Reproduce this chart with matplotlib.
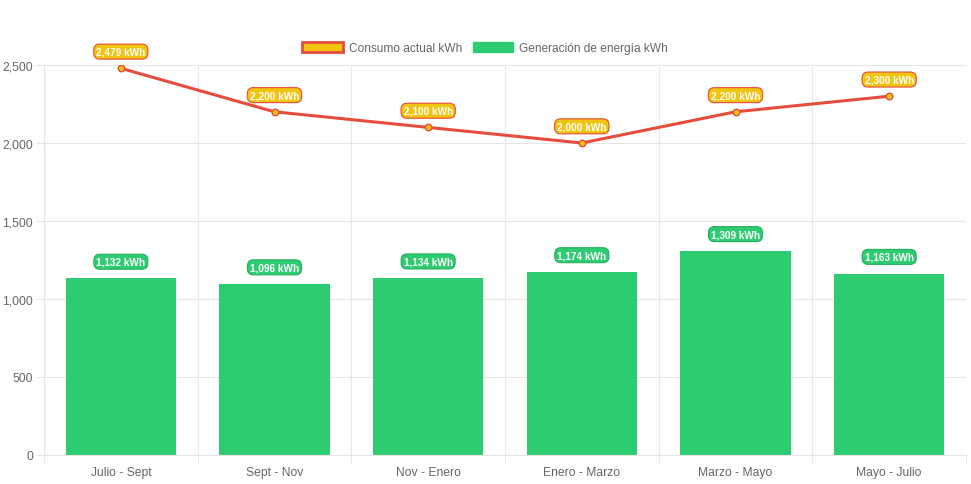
import matplotlib
matplotlib.use("Agg")
import matplotlib.pyplot as plt
import numpy as np
from matplotlib.patches import Patch

plt.rcParams['font.family'] = ['Liberation Sans', 'DejaVu Sans']

categories = ["Julio - Sept", "Sept - Nov", "Nov - Enero", "Enero - Marzo", "Marzo - Mayo", "Mayo - Julio"]
consumo = [2479, 2200, 2100, 2000, 2200, 2300]
generacion = [1132, 1096, 1134, 1174, 1309, 1163]

green = "#2ecc71"
red = "#e74c3c"
yellow = "#f1c40f"

fig = plt.figure(figsize=(9.71, 4.85), dpi=100)
ax = fig.add_axes([44/971, 29/485, 922/971, 390/485])

x = np.arange(len(categories))
ax.bar(x, generacion, width=0.72, color=green, zorder=2)
ax.plot(x, consumo, color=red, lw=2.2, zorder=3)
ax.scatter(x, consumo, s=22, facecolor=yellow, edgecolor=red, linewidth=1, zorder=4)

for xi, v in zip(x, consumo):
    ax.annotate(f"{v:,} kWh", (xi, v), xytext=(0, 12), textcoords="offset points",
                ha="center", va="center", fontsize=7.2, fontweight="bold", color="white",
                bbox=dict(boxstyle="round,pad=0.25,rounding_size=0.6", fc=yellow, ec=red, lw=0.8),
                zorder=5, annotation_clip=False)
for xi, v in zip(x, generacion):
    ax.annotate(f"{v:,} kWh", (xi, v), xytext=(0, 12), textcoords="offset points",
                ha="center", va="center", fontsize=7.2, fontweight="bold", color="white",
                bbox=dict(boxstyle="round,pad=0.25,rounding_size=0.6", fc=green, ec="#27ae60", lw=0.8),
                zorder=5)

ax.set_xlim(-0.5, len(categories) - 0.5)
ax.set_ylim(0, 2500)
ax.set_yticks([0, 500, 1000, 1500, 2000, 2500])
ax.set_yticklabels([f"{t:,}" for t in [0, 500, 1000, 1500, 2000, 2500]])
ax.set_xticks(x)
ax.set_xticklabels(categories)
ax.set_xticks(np.arange(len(categories) + 1) - 0.5, minor=True)

ax.grid(axis="y", color="#e6e6e6", lw=0.8, zorder=0)
ax.grid(axis="x", which="minor", color="#e9e9e9", lw=0.8, zorder=0)
ax.tick_params(axis="x", which="major", length=0, pad=8, labelsize=8.7, colors="#666666")
ax.tick_params(axis="x", which="minor", length=6, color="#e5e5e5")
ax.tick_params(axis="y", length=6, color="#e5e5e5", labelsize=8.7, labelcolor="#666666", pad=2)
for s in ["top", "right"]:
    ax.spines[s].set_visible(False)
for s in ["left", "bottom"]:
    ax.spines[s].set_color("#e5e5e5")

handles = [Patch(facecolor=yellow, edgecolor=red, lw=2), Patch(facecolor=green, edgecolor=green)]
fig.legend(handles, ["Consumo actual kWh", "Generación de energía kWh"], loc="center",
           bbox_to_anchor=(485/971, 1 - 49/485), ncol=2, frameon=False, fontsize=8.6,
           handlelength=3.4, handleheight=1.0, columnspacing=0.9, handletextpad=0.5,
           labelcolor="#666666")

fig.savefig("out.png", dpi=100)
